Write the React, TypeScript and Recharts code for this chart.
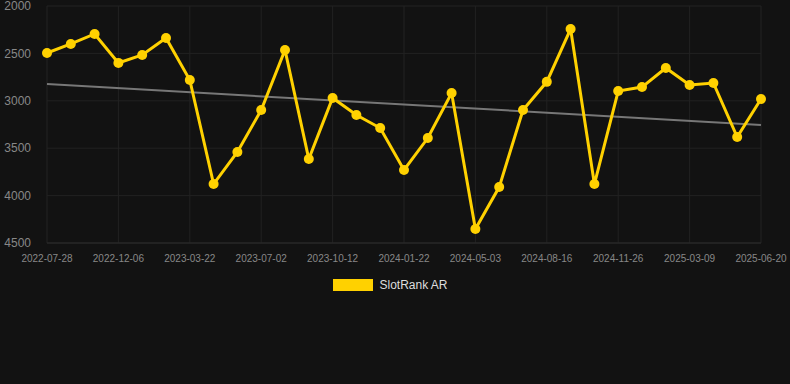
import React from 'react';
import { LineChart, Line, XAxis, YAxis, CartesianGrid, Legend, ReferenceLine } from 'recharts';

const dates = [
  '2022-07-28', '2022-09-10', '2022-10-24', '2022-12-06', '2023-01-10', '2023-02-14',
  '2023-03-22', '2023-04-26', '2023-05-28', '2023-07-02', '2023-08-05', '2023-09-08',
  '2023-10-12', '2023-11-14', '2023-12-18', '2024-01-22', '2024-02-25', '2024-03-30',
  '2024-05-03', '2024-06-06', '2024-07-11', '2024-08-16', '2024-09-19', '2024-10-23',
  '2024-11-26', '2024-12-30', '2025-02-02', '2025-03-09', '2025-04-12', '2025-05-17',
  '2025-06-20',
];

const slotRank = [
  2496, 2400, 2295, 2600, 2517, 2338, 2780, 3878, 3540, 3097, 2464,
  3614, 2970, 3150, 3287, 3730, 3393, 2918, 4353, 3910, 3097, 2800,
  2243, 3878, 2897, 2855, 2654, 2834, 2812, 3382, 2981,
];

const yTicks = [2000, 2500, 3000, 3500, 4000, 4500];
const trendStart = 2823;
const trendEnd = 3255;

const chartData = dates.map((d, i) => ({ date: d, rank: slotRank[i] }));

const LegendBox = () => (
  <div style={{ display: 'flex', alignItems: 'center', justifyContent: 'center', paddingTop: 8, paddingLeft: 20 }}>
    <span style={{ display: 'inline-block', width: 40, height: 12, background: '#FFD100', marginRight: 6 }} />
    <span style={{ color: '#dddddd', fontSize: 12, fontFamily: 'Liberation Sans, Arial, sans-serif' }}>SlotRank AR</span>
  </div>
);

const App: React.FC = () => {
  return (
    <div style={{ position: 'fixed', top: 0, left: 0, width: 790, height: 384, background: '#121212' }}>
      <LineChart width={790} height={300} data={chartData} margin={{ top: 6, right: 29, left: 0, bottom: 0 }}>
        <CartesianGrid stroke="#222222" strokeWidth={1} />
        <XAxis
          dataKey="date"
          interval={2}
          height={27}
          tickLine={false}
          axisLine={{ stroke: '#2a2a2a' }}
          tick={{ fill: '#888888', fontSize: 10, fontFamily: 'Liberation Sans, Arial, sans-serif' }}
          tickMargin={6}
        />
        <YAxis
          reversed
          domain={[2000, 4500]}
          ticks={yTicks}
          interval={0}
          width={47}
          tickLine={false}
          axisLine={false}
          tick={{ fill: '#888888', fontSize: 12, fontFamily: 'Liberation Sans, Arial, sans-serif' }}
          tickMargin={10}
        />
        <ReferenceLine
          segment={[{ x: dates[0], y: trendStart }, { x: dates[dates.length - 1], y: trendEnd }]}
          stroke="#777777"
          strokeWidth={2}
        />
        <Line
          type="linear"
          dataKey="rank"
          stroke="#FFD100"
          strokeWidth={3}
          dot={{ r: 5, fill: '#FFD100', stroke: '#FFD100', strokeWidth: 0 }}
          isAnimationActive={false}
        />
        <Legend verticalAlign="bottom" height={30} content={<LegendBox />} />
      </LineChart>
    </div>
  );
};

export default App;
